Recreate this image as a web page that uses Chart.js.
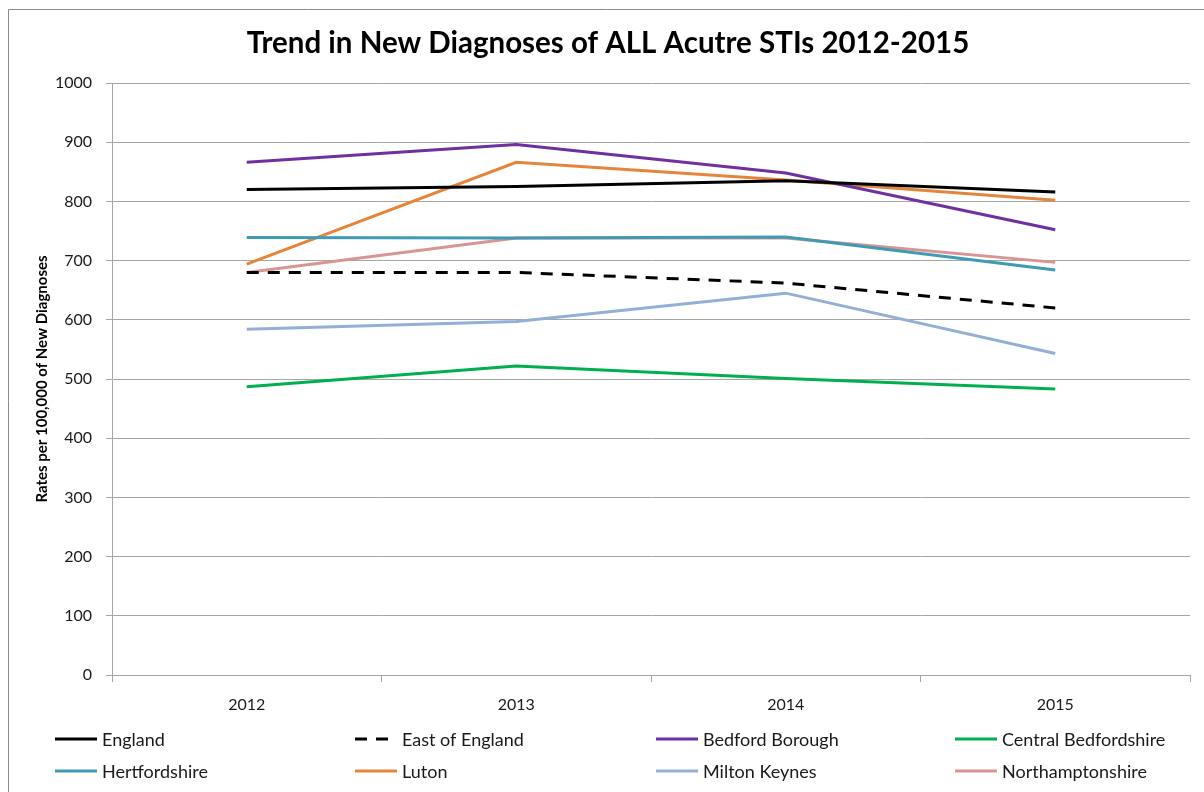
<!DOCTYPE html>
<html>
<head>
<meta charset="utf-8">
<script src="https://cdn.jsdelivr.net/npm/chart.js@4"></script>
<style>
  body { margin: 0; background: #fff; }
  #wrap { width: 1204px; height: 792px; }
</style>
</head>
<body>
<div id="wrap"><canvas id="myChart" width="1204" height="792"></canvas></div>
<script>
const years = ['2012', '2013', '2014', '2015'];

const england = [820, 825, 835, 816];
const eastOfEngland = [680, 680, 662, 620];
const bedfordBorough = [866, 896, 848, 752];
const centralBedfordshire = [487, 522, 501, 483];
const hertfordshire = [739, 738, 740, 684];
const luton = [694, 866, 836, 802];
const miltonKeynes = [584, 597, 645, 543];
const northamptonshire = [680, 738, 738, 697];

const FONT = 'Lato, "Liberation Sans", sans-serif';
const gridGrey = '#a6a6a6';

// draws the thin frame on the left and top, like the excel chart area
const framePlugin = {
  id: 'frame',
  beforeDraw(chart) {
    const c = chart.ctx;
    c.save();
    c.strokeStyle = '#8c8c8c';
    c.lineWidth = 1;
    c.beginPath();
    c.moveTo(8.5, 792);
    c.lineTo(8.5, 9.5);
    c.lineTo(1204, 9.5);
    c.stroke();
    c.restore();
  }
};

// legend in a 4 column grid below the axis
const gridLegend = {
  id: 'gridLegend',
  afterDraw(chart) {
    const c = chart.ctx;
    const cols = [55, 355, 656, 955];
    const rows = [739, 771];
    c.save();
    c.font = '18px ' + FONT;
    c.textBaseline = 'middle';
    c.fillStyle = '#1a1a1a';
    chart.data.datasets.forEach((ds, i) => {
      const x = cols[i % 4];
      const y = rows[Math.floor(i / 4)];
      c.strokeStyle = ds.borderColor;
      c.lineWidth = 3;
      c.setLineDash(ds.borderDash || []);
      c.beginPath();
      c.moveTo(x, y);
      c.lineTo(x + 42, y);
      c.stroke();
      c.setLineDash([]);
      c.fillText(ds.label, x + 47, y + 1);
    });
    c.restore();
  }
};

function series(label, data, color, dash) {
  return {
    label: label,
    data: data,
    borderColor: color,
    backgroundColor: color,
    borderWidth: 3,
    borderDash: dash || [],
    pointRadius: 0,
    pointHoverRadius: 0,
    tension: 0,
    fill: false
  };
}

const ctx = document.getElementById('myChart');

new Chart(ctx, {
  type: 'line',
  data: {
    labels: years,
    datasets: [
      series('England', england, '#000000'),
      series('East of England', eastOfEngland, '#000000', [12, 9]),
      series('Bedford Borough', bedfordBorough, '#7030a0'),
      series('Central Bedfordshire', centralBedfordshire, '#00b050'),
      series('Hertfordshire', hertfordshire, '#3f9bb3'),
      series('Luton', luton, '#e5853b'),
      series('Milton Keynes', miltonKeynes, '#94afd6'),
      series('Northamptonshire', northamptonshire, '#d89593')
    ]
  },
  options: {
    responsive: false,
    animation: false,
    layout: {
      padding: { left: 26, right: 14, top: 0, bottom: 70 }
    },
    plugins: {
      legend: { display: false },
      tooltip: { enabled: false },
      title: {
        display: true,
        text: 'Trend in New Diagnoses of ALL Acutre STIs 2012-2015',
        color: '#000',
        font: { family: FONT, size: 29.5, weight: 'bold', lineHeight: 1.2 },
        padding: { top: 26, bottom: 21.6 }
      }
    },
    scales: {
      x: {
        offset: true,
        grid: {
          offset: true,
          drawOnChartArea: false,
          color: gridGrey,
          tickLength: 7
        },
        border: { color: gridGrey, width: 1 },
        ticks: {
          color: '#1a1a1a',
          padding: 13,
          font: { family: FONT, size: 16 }
        },
        afterFit(scale) { scale.height = 47; }
      },
      y: {
        min: 0,
        max: 1000,
        grid: {
          color: gridGrey,
          tickLength: 6
        },
        border: { color: gridGrey, width: 1 },
        ticks: {
          stepSize: 100,
          color: '#1a1a1a',
          padding: 14,
          font: { family: FONT, size: 16 },
          callback: (v) => String(v)
        },
        title: {
          display: true,
          text: 'Rates per 100,000 of New Diagnoses',
          color: '#000',
          font: { family: FONT, size: 15, weight: 'bold' },
          padding: { top: 7, bottom: 0 }
        },
        afterFit(scale) { scale.width = 86; }
      }
    }
  },
  plugins: [framePlugin, gridLegend]
});
</script>
</body>
</html>
